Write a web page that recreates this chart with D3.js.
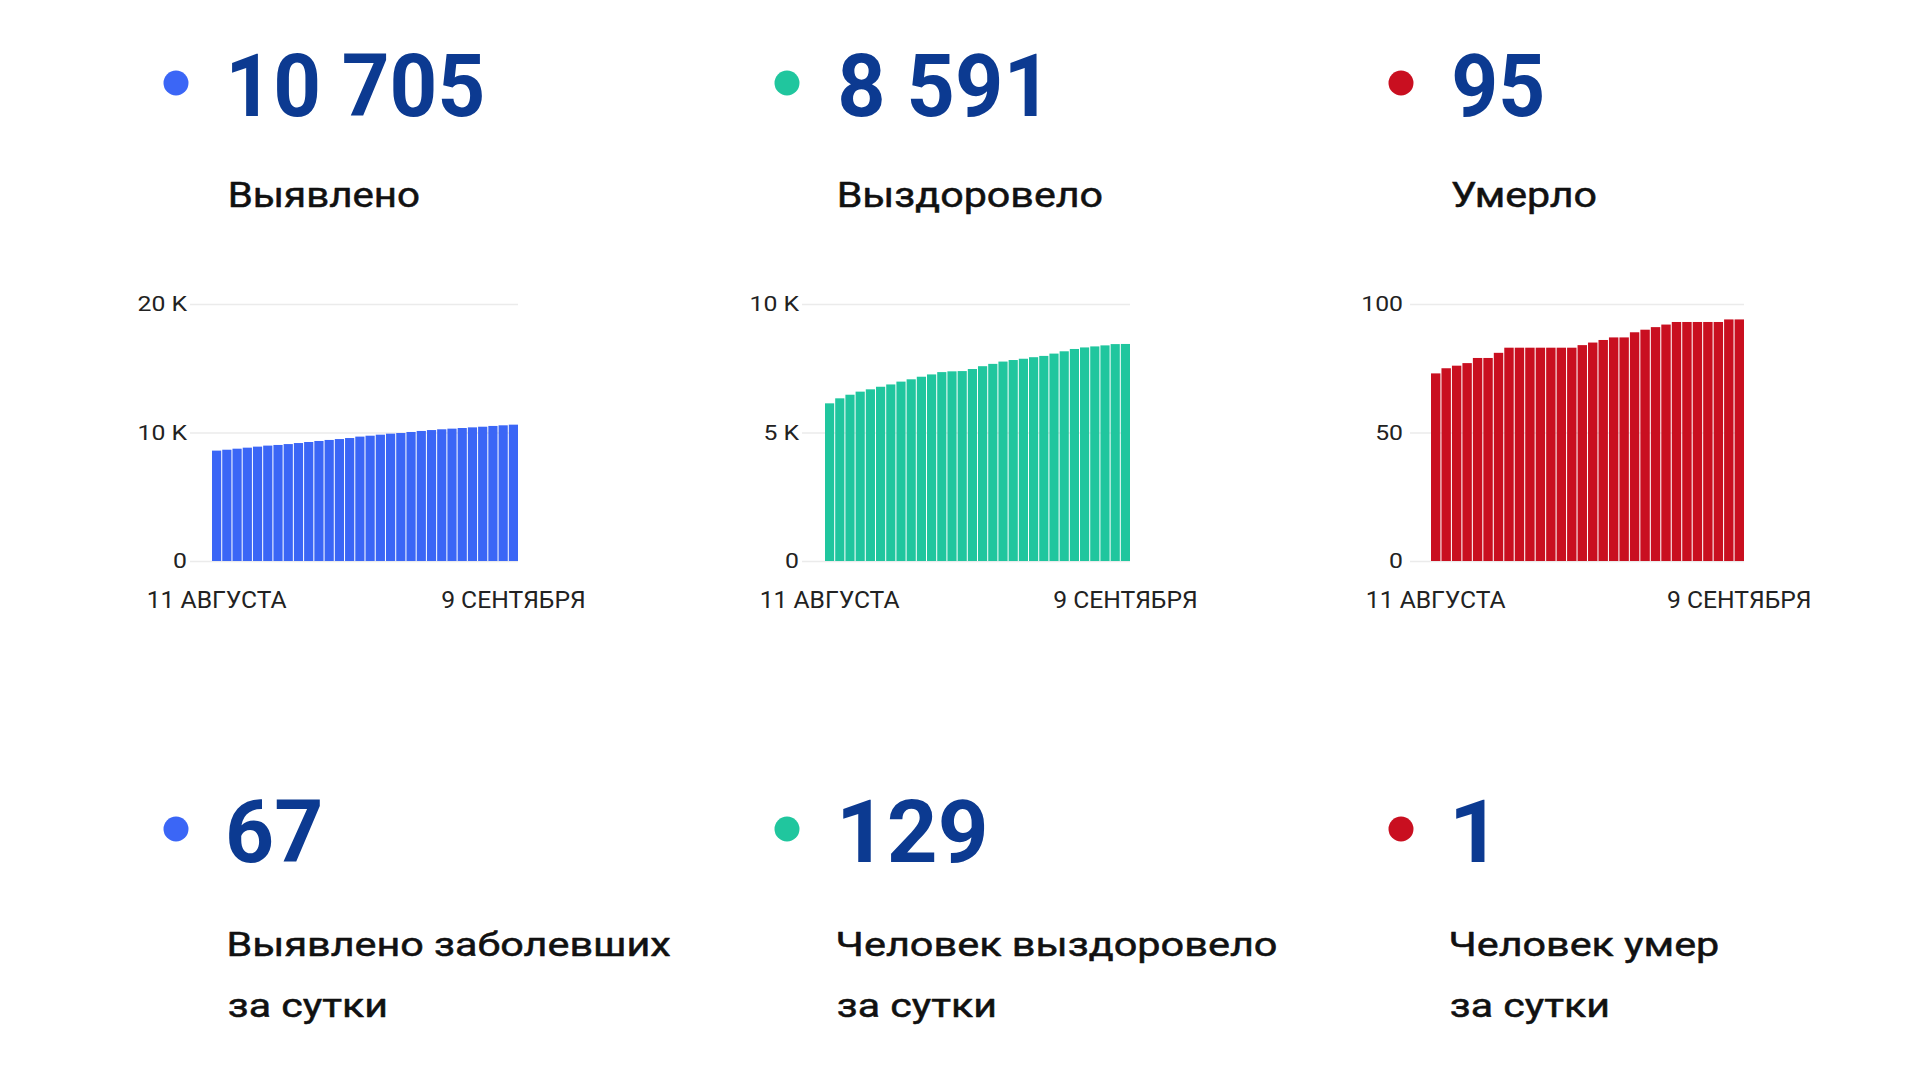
<!DOCTYPE html>
<html>
<head>
<meta charset="utf-8">
<script src="https://cdn.jsdelivr.net/npm/d3@7"></script>
<style>
  html, body { margin: 0; padding: 0; background: #ffffff; }
  svg { display: block; font-family: Roboto, "Noto Sans", sans-serif; }
</style>
</head>
<body>
<svg id="chart" width="1920" height="1080"></svg>
<script>
// ---------- DATA ----------
const dates = [
  "11.08","12.08","13.08","14.08","15.08","16.08","17.08","18.08","19.08","20.08",
  "21.08","22.08","23.08","24.08","25.08","26.08","27.08","28.08","29.08","30.08",
  "31.08","01.09","02.09","03.09","04.09","05.09","06.09","07.09","08.09","09.09"
];
const xTickLabels = ["11 АВГУСТА", "9 СЕНТЯБРЯ"];

const detected = [
  8590, 8660, 8740, 8820, 8900, 8980, 9030, 9100, 9180, 9260,
  9340, 9420, 9490, 9570, 9680, 9750, 9830, 9910, 9960, 10040,
  10120, 10190, 10250, 10300, 10350, 10400, 10450, 10510, 10560, 10610
];
const recovered = [
  6135, 6330, 6470, 6590, 6680, 6780, 6870, 6980, 7070, 7170,
  7260, 7350, 7380, 7390, 7470, 7580, 7670, 7760, 7820, 7870,
  7930, 7980, 8070, 8160, 8250, 8310, 8350, 8390, 8440, 8445
];
const deaths = [
  73, 75, 76, 77, 79, 79, 81, 83, 83, 83,
  83, 83, 83, 83, 84, 85, 86, 87, 87, 89,
  90, 91, 92, 93, 93, 93, 93, 93, 94, 94
];

const yTicksDetected = [0, 10000, 20000];
const yTicksRecovered = [0, 5000, 10000];
const yTicksDeaths = [0, 50, 100];
const yTickLabelsDetected = ["0", "10 K", "20 K"];
const yTickLabelsRecovered = ["0", "5 K", "10 K"];
const yTickLabelsDeaths = ["0", "50", "100"];

const totals = ["10 705", "8 591", "95"];
const totalLabels = ["Выявлено", "Выздоровело", "Умерло"];
const daily = ["67", "129", "1"];
const dailyLabels = [
  ["Выявлено заболевших", "за сутки"],
  ["Человек выздоровело", "за сутки"],
  ["Человек умер", "за сутки"]
];
const colors = ["#3b66f6", "#20c69e", "#c90f20"];

// ---------- LAYOUT (positions / sizes / styles) ----------
const svg = d3.select("#chart");
const numberColor = "#0c3a91";
const colTextX = [231, 840, 1453];
const colDotX = [176, 787, 1401];
// measured ink widths of the header texts in the reference
const totalW = [250, 196, 88];
const totalLabelW = [189, 263, 144];
const dailyW = [91, 141, 29];
const dailyLabelW = [[442, 157], [438, 157], [267, 157]];
const labelColor = "#111111";

const ctx = document.createElement("canvas").getContext("2d");
function fitText(str, weight, size, fill, inkLeft, inkWidth, baseline, strokeW) {
  ctx.font = `${weight} ${size}px Roboto`;
  const m = ctx.measureText(str);
  const natLeft = -m.actualBoundingBoxLeft;
  const natW = m.actualBoundingBoxRight + m.actualBoundingBoxLeft;
  const sx = natW > 0 ? inkWidth / natW : 1;
  const tx = inkLeft - sx * natLeft;
  const t = svg.append("text")
    .attr("x", 0).attr("y", 0)
    .attr("transform", `translate(${tx},${baseline}) scale(${sx},1)`)
    .attr("font-family", "Roboto")
    .attr("font-size", size).attr("font-weight", weight)
    .attr("fill", fill)
    .text(str);
  if (strokeW) t.attr("stroke", fill).attr("stroke-width", strokeW).attr("stroke-linejoin", "round");
}

for (let i = 0; i < 3; i++) {
  // top row
  svg.append("circle").attr("cx", colDotX[i]).attr("cy", 83).attr("r", 12.5).attr("fill", colors[i]);
  fitText(totals[i], 700, 88, numberColor, colTextX[i] + 1, totalW[i], 116);
  fitText(totalLabels[i], 400, 35, labelColor, colTextX[i] - 1, totalLabelW[i], 207, 0.5);
  // bottom row
  svg.append("circle").attr("cx", colDotX[i]).attr("cy", 829).attr("r", 12.5).attr("fill", colors[i]);
  fitText(daily[i], 700, 88, numberColor, colTextX[i] - 2 + (i === 2 ? 5 : 0) + (i === 1 ? 5 : 0), dailyW[i], 862);
  dailyLabels[i].forEach((ln, k) => {
    fitText(ln, 400, 34, labelColor, colTextX[i] - 2, dailyLabelW[i][k], 956 + k * 61, 0.5);
  });
}

// ---------- BAR CHARTS ----------
const chartSpecs = [
  { values: detected,  ticks: yTicksDetected,  labels: yTickLabelsDetected,  max: 20000, gridX0: 190,  barX0: 212,  barX1: 518,  labelRight: 187 },
  { values: recovered, ticks: yTicksRecovered, labels: yTickLabelsRecovered, max: 10000, gridX0: 802,  barX0: 825,  barX1: 1130, labelRight: 799 },
  { values: deaths,    ticks: yTicksDeaths,    labels: yTickLabelsDeaths,    max: 100,   gridX0: 1410, barX0: 1431, barX1: 1744, labelRight: 1403 }
];
const yBottom = 561, yTop = 304;
const tickSX = 1.18, xLabelSX = 1.05;

chartSpecs.forEach((spec, i) => {
  const g = svg.append("g");
  const x = d3.scaleBand().domain(dates).range([spec.barX0, spec.barX1]).paddingInner(0.1).paddingOuter(0);
  const y = d3.scaleLinear().domain([0, spec.max]).range([yBottom, yTop]);

  // gridlines + y labels
  const yAxis = d3.axisLeft(y)
    .tickValues(spec.ticks)
    .tickSize(-(spec.barX1 - spec.gridX0))
    .tickPadding(spec.gridX0 - spec.labelRight)
    .tickFormat((d, k) => spec.labels[k]);
  const ag = g.append("g").attr("transform", `translate(${spec.gridX0},0)`).call(yAxis);
  ag.select(".domain").remove();
  ag.selectAll(".tick line").attr("stroke", "#ebebeb").attr("stroke-width", 1.5);
  ag.selectAll(".tick text")
    .attr("font-size", 21).attr("fill", "#222222")
    .attr("font-family", "Roboto, sans-serif")
    .attr("x", -(spec.gridX0 - spec.labelRight) / tickSX)
    .attr("transform", `scale(${tickSX},1)`);

  // bars
  g.selectAll("rect.bar").data(spec.values).join("rect")
    .attr("class", "bar")
    .attr("x", (d, k) => x(dates[k]))
    .attr("width", x.bandwidth())
    .attr("y", d => y(d))
    .attr("height", d => yBottom - y(d))
    .attr("fill", colors[i]);

  // x labels (first and last day)
  const xAxis = d3.axisBottom(x)
    .tickValues([dates[0], dates[dates.length - 1]])
    .tickSize(0)
    .tickPadding(0)
    .tickFormat((d, k) => xTickLabels[k]);
  const xg = g.append("g").attr("transform", `translate(0,${yBottom})`).call(xAxis);
  xg.select(".domain").remove();
  xg.selectAll(".tick text")
    .attr("font-size", 23.5).attr("fill", "#222222")
    .attr("font-family", "Roboto, sans-serif")
    .attr("dy", null)
    .attr("y", 47)
    .attr("transform", `scale(${xLabelSX},1)`);
});
</script>
</body>
</html>
